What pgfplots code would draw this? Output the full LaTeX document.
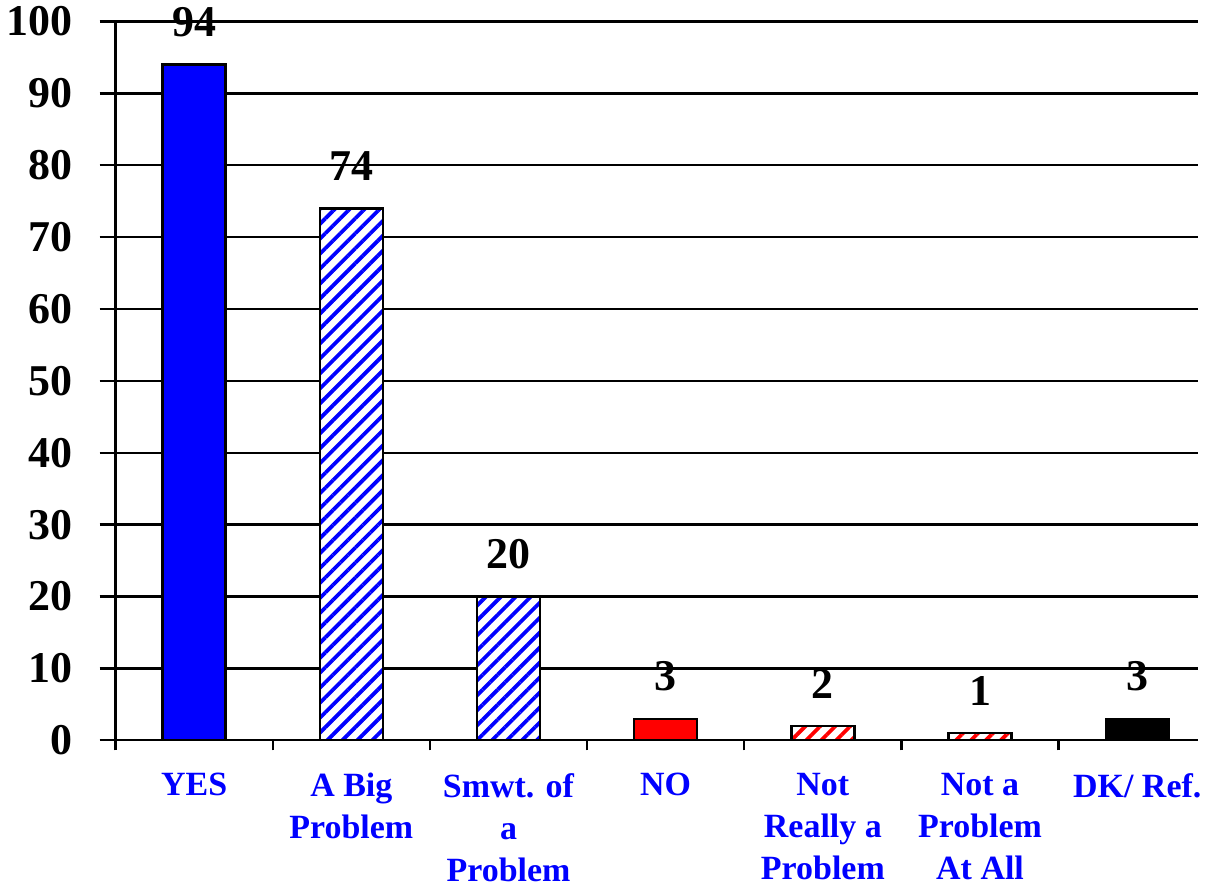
\documentclass[border=0pt]{standalone}
\usepackage{pgfplots}
\pgfplotsset{compat=1.18}
\usepackage{fontspec}
\setmainfont{Liberation Serif}
\usetikzlibrary{patterns.meta}

\tikzset{
  bluehatch/.style={preaction={fill=white}, pattern={Lines[angle=45,distance=5.3pt,line width=1.9pt]}, pattern color=blue},
  redhatch/.style={preaction={fill=white}, pattern={Lines[angle=45,distance=5.3pt,line width=1.9pt]}, pattern color=red},
}

\begin{document}
\begin{tikzpicture}
\begin{axis}[
  scale only axis,
  width=542pt, height=360pt,
  ybar, bar width=0.4, bar shift=0pt,
  xmin=-0.5, xmax=6.385, ymin=0, ymax=100,
  ytick={0,10,...,100},
  ymajorgrids,
  grid style={black, line width=1.2pt},
  axis x line*=bottom, axis y line*=left,
  axis line style={line width=1.2pt, -},
  tick align=outside,
  major tick length=8pt,
  tick style={black, line width=1.2pt},
  xtick={0,...,6},
  x tick style={draw=none},
  xticklabels={YES, {A Big\\Problem}, {Smwt. of\\a\\Problem}, NO, {Not\\Really a\\Problem}, {Not a\\Problem\\At All}, {DK/ Ref.}},
  x tick label style={align=center, text=blue, font=\fontsize{17}{21}\selectfont\bfseries, yshift=-5pt},
  extra x ticks={-0.5,0.5,1.5,2.5,3.5,4.5,5.5},
  extra x tick labels={},
  extra x tick style={grid=none, major tick length=5pt, x tick style={draw=black, line width=1.2pt}},
  y tick label style={font=\fontsize{22}{26}\selectfont\bfseries, xshift=-10pt},
  /pgf/number format/assume math mode=true,
  nodes near coords,
  every node near coord/.append style={black, font=\fontsize{22}{26}\selectfont\bfseries, anchor=south, yshift=10pt},
  clip=false,
]
\addplot[fill=blue, draw=black, line width=1.2pt] coordinates {(0,94)};
\addplot[bluehatch, draw=black, line width=1.2pt] coordinates {(1,74)};
\addplot[bluehatch, draw=black, line width=1.2pt] coordinates {(2,20)};
\addplot[fill=red, draw=black, line width=1.2pt] coordinates {(3,3)};
\addplot[redhatch, draw=black, line width=1.2pt] coordinates {(4,2)};
\addplot[redhatch, draw=black, line width=1.2pt] coordinates {(5,1)};
\addplot[fill=black, draw=black, line width=1.2pt] coordinates {(6,3)};
\end{axis}
\end{tikzpicture}
\end{document}
